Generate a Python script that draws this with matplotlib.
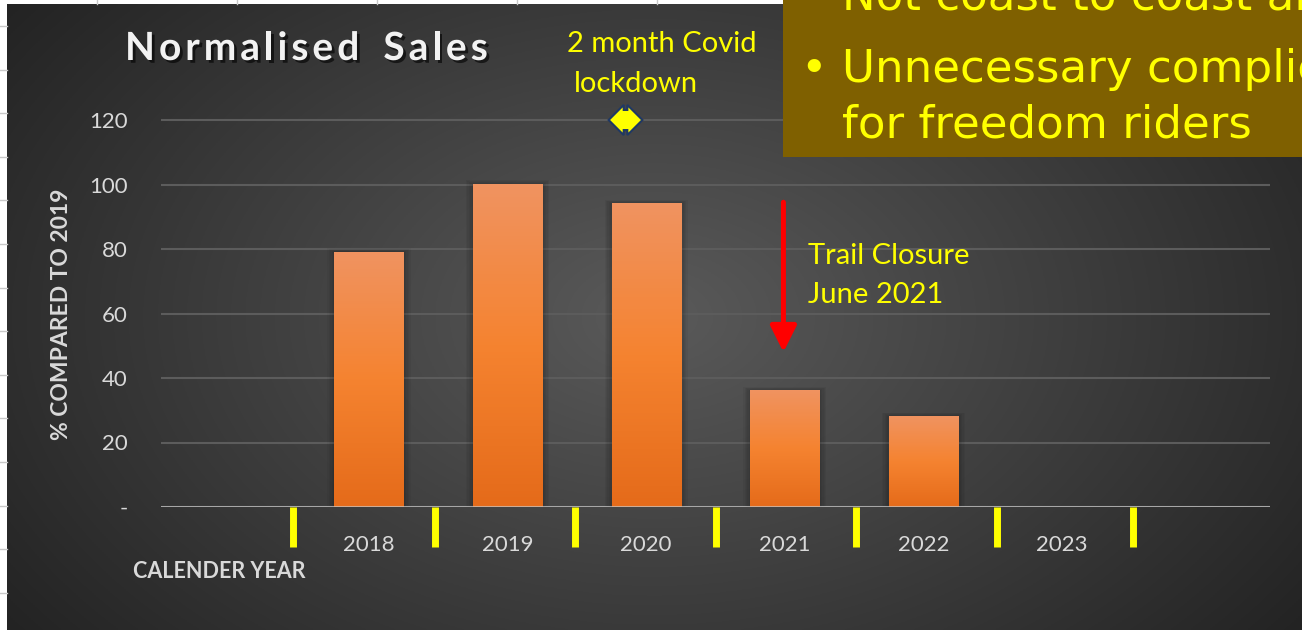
import numpy as np
import matplotlib
matplotlib.use('Agg')
import matplotlib.pyplot as plt
from matplotlib.patches import Rectangle
from matplotlib.lines import Line2D
import matplotlib.patheffects as pe

# data
years = ['', '2018', '2019', '2020', '2021', '2022', '2023', '']
sales = [np.nan, 79, 100, 94, 36, 28, 0, np.nan]
yticks = [0, 20, 40, 60, 80, 100, 120]
ytick_labels = ['-', '20', '40', '60', '80', '100', '120']
dividers = [0.45, 1.48, 2.49, 3.5, 4.51, 5.53, 6.51]

W, H = 1302, 630
fig = plt.figure(figsize=(W / 100, H / 100), dpi=100)
fig.patch.set_facecolor('white')
plt.rcParams['font.family'] = ['Lato', 'DejaVu Sans']

# spreadsheet cells peeking out behind the chart
for yy in np.arange(26, H, 43.6):
    fig.add_artist(Line2D([0, 7 / W], [1 - yy / H] * 2, color='#c8c8c8', lw=1))
for xx in np.arange(97, W, 140):
    fig.add_artist(Line2D([xx / W] * 2, [1 - 4 / H, 1], color='#c8c8c8', lw=1))

# dark radial background
bg = fig.add_axes([7 / W, 0, 1 - 7 / W, 1 - 4 / H])
bg.axis('off')
gx, gy = np.meshgrid(np.linspace(0, 1, 640), np.linspace(0, 1, 320))
r = np.sqrt(((gx - 0.5) / 0.55) ** 2 + ((gy - 0.5) / 0.75) ** 2)
t = np.clip(r / 1.15, 0, 1)[..., None]
c0 = np.array([0x5a, 0x5a, 0x5a]) / 255
c1 = np.array([0x22, 0x22, 0x22]) / 255
bg.imshow(c0 * (1 - t) + c1 * t, extent=[0, 1, 0, 1], aspect='auto')
bg.set_xlim(0, 1)
bg.set_ylim(0, 1)

ax = fig.add_axes([161 / W, (H - 507) / H, (1270 - 161) / W, 122 * 3.225 / H])
ax.patch.set_alpha(0)

x = np.arange(len(years))
bars = ax.bar(x, sales, width=0.5, color='none', zorder=3)
grad = np.array([[0xF0, 0x93, 0x60], [0xF5, 0x83, 0x30], [0xE5, 0x6B, 0x1A]]) / 255
gv = np.linspace(0, 1, 100)[:, None]
gimg = np.where(gv < 0.5,
                grad[0] * (1 - gv * 2) + grad[1] * (gv * 2),
                grad[1] * (2 - gv * 2) + grad[2] * (gv * 2 - 1))
gimg = gimg.reshape(100, 1, 3)
for b in bars:
    h = b.get_height()
    if not np.isfinite(h) or h <= 0:
        continue
    x0, w = b.get_x(), b.get_width()
    # soft shadow
    for k in range(1, 6):
        ax.add_patch(Rectangle((x0 - 0.01 * k, 0), w + 0.02 * k, h + 0.25 * k,
                               fc='black', ec='none', alpha=0.045, zorder=2))
    ax.imshow(gimg, extent=[x0, x0 + w, 0, h], aspect='auto', zorder=3)
ax.set_xlim(-0.5, 7.5)
ax.set_ylim(0, 122)

ax.set_yticks(yticks)
ax.set_yticklabels(ytick_labels)
ax.set_xticks(x)
ax.set_xticklabels(years)
ax.yaxis.grid(True, color='#5c5c5c', lw=1.5)
ax.set_axisbelow(True)
for s in ax.spines.values():
    s.set_visible(False)
ax.tick_params(length=0, colors='#d9d9d9', labelsize=16)
ax.tick_params(axis='y', pad=24)
ax.tick_params(axis='x', pad=20)
ax.axhline(0, color='#c8c8c8', lw=2.2, alpha=0.7, zorder=4)

# yellow dividers below the axis
for d in dividers:
    ax.plot([d, d], [0, -12.5], color='#ffff00', lw=5, solid_capstyle='butt', clip_on=False, zorder=5)

# annotations
ax.annotate('', xy=(3.99, 48), xytext=(3.99, 94.5),
            arrowprops=dict(arrowstyle='-|>,head_width=0.4,head_length=0.8', color='red',
                            lw=3.6, mutation_scale=20, shrinkA=0, shrinkB=0), zorder=6)
ax.text(4.17, 75.3, 'Trail Closure', color='#ffff00', fontsize=21, va='baseline')
ax.text(4.17, 63.3, 'June 2021', color='#ffff00', fontsize=21, va='baseline')
ax.text(2.43, 141.1, '2 month Covid', color='#ffff00', fontsize=21, va='baseline', clip_on=False)
ax.text(2.48, 128.7, 'lockdown', color='#ffff00', fontsize=21, va='baseline', clip_on=False)
ax.text(2.84, 120, '\u2002', fontsize=14, ha='center', va='center', zorder=6,
        bbox=dict(boxstyle='darrow,pad=0.08', fc='#ffff00', ec='#1f3864', lw=1.5))

# title with spread letters
rend = fig.canvas.get_renderer()
tx = 125
for ch in 'Normalised  Sales':
    if ch == ' ':
        tx += 10
        continue
    tt = fig.text(tx / W, 1 - 60 / H, ch, fontsize=28, weight='bold', color='#f2f2f2',
                  va='baseline',
                  path_effects=[pe.withSimplePatchShadow(offset=(2, -2), shadow_rgbFace='black', alpha=0.6)])
    tx += tt.get_window_extent(rend).width + 4

fig.text(62 / W, 1 - 314 / H, '% COMPARED TO 2019', rotation=90, ha='center', va='center',
         fontsize=16.5, weight='bold', color='#d9d9d9')
fig.text(133 / W, 1 - 572 / H, 'CALENDER YEAR', ha='left', va='center',
         fontsize=15.5, weight='bold', color='#d9d9d9')

# slide text box overlapping the chart
fig.add_artist(Rectangle((783 / W, 1 - 157 / H), 1, 157 / H, transform=fig.transFigure,
                         fc='#7f6000', ec='none', zorder=10))
box_font = dict(fontsize=32.5, color='#ffff00', family='DejaVu Sans', va='baseline', zorder=11)
fig.text(842 / W, 1 - 9 / H, 'Not coast to coast and', **box_font)
fig.text(800 / W, 1 - 82 / H, '\u2022', **box_font)
fig.text(842 / W, 1 - 82 / H, 'Unnecessary complications', **box_font)
fig.text(842 / W, 1 - 137 / H, 'for freedom riders', **box_font)

plt.savefig('out.png', dpi=100)
